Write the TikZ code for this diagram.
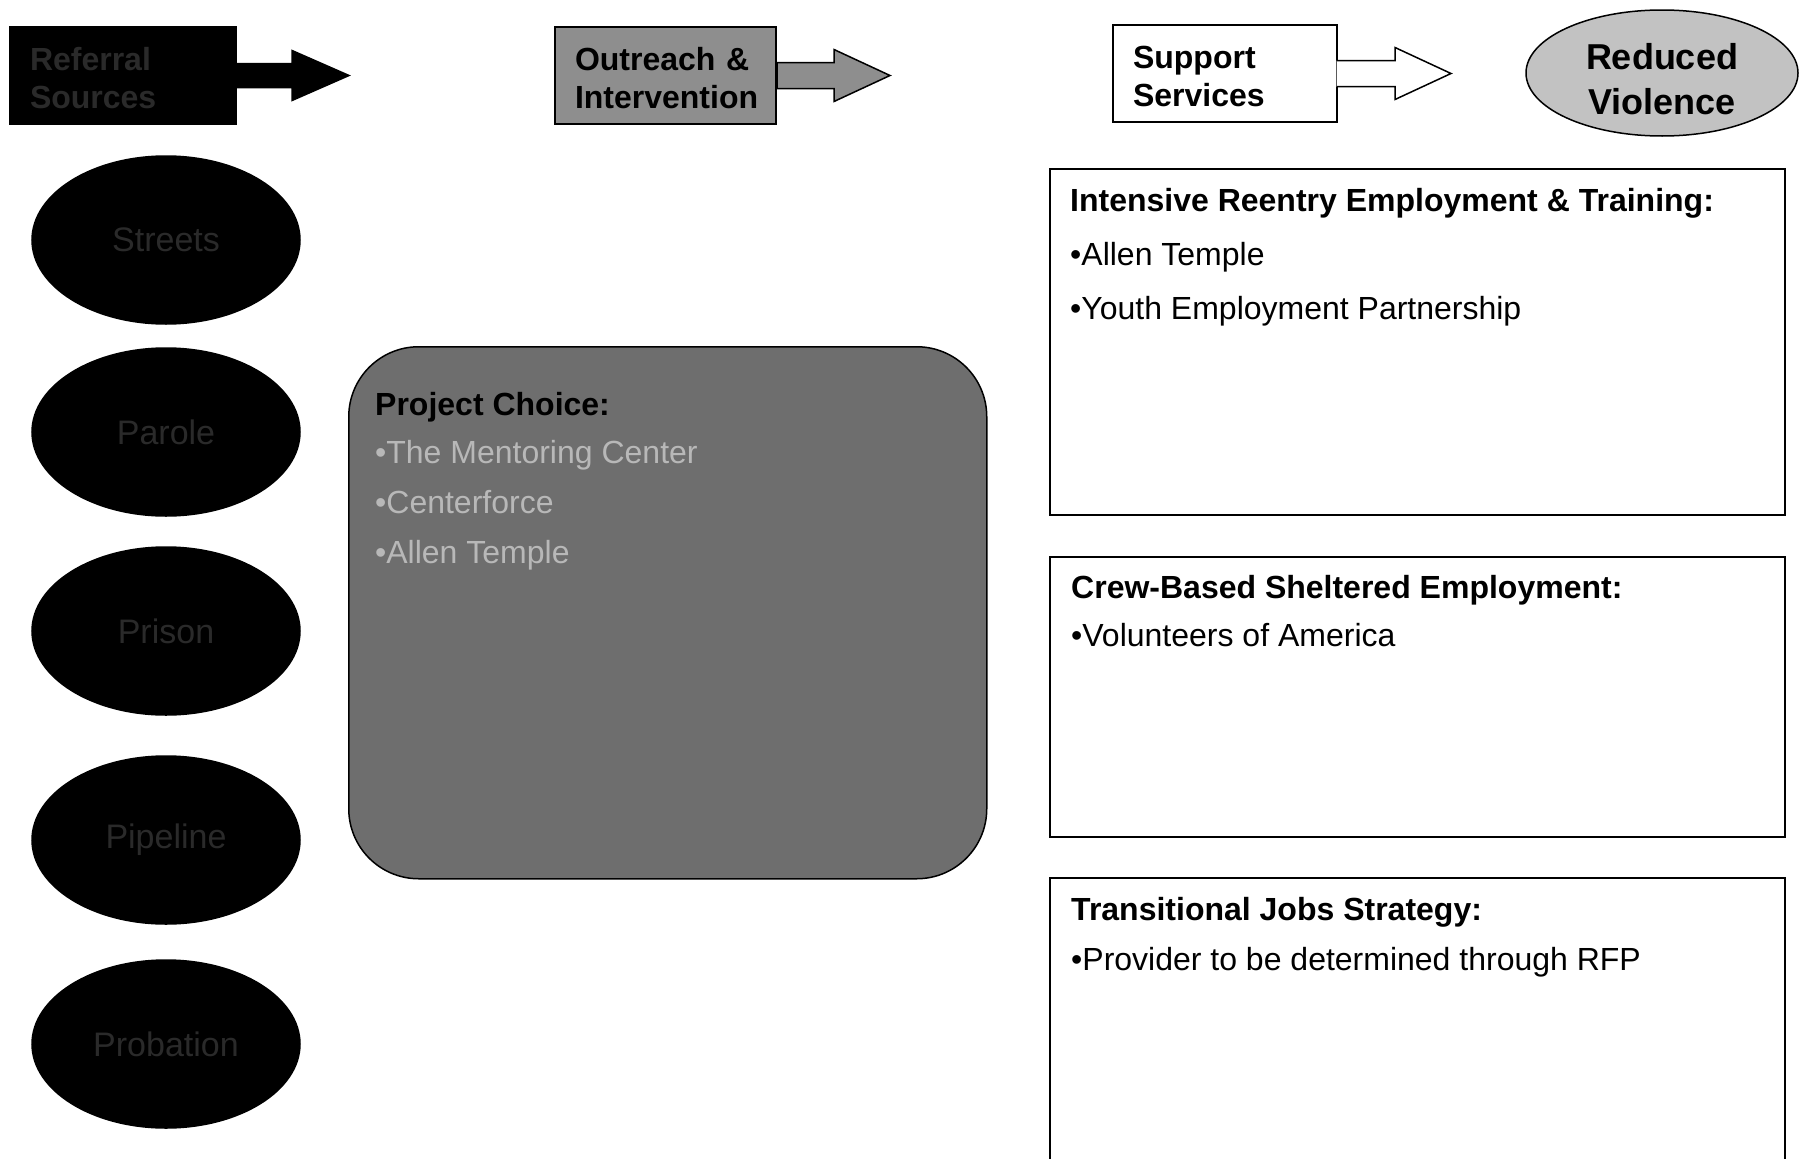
\documentclass[tikz,border=0pt]{standalone}
\usepackage{fontspec}
\setmainfont{Liberation Sans}
\usetikzlibrary{shapes.geometric,calc}
\definecolor{pcgray}{HTML}{6E6E6E}
\definecolor{outgray}{HTML}{8E8E8E}
\definecolor{rvgray}{HTML}{C2C2C2}
\definecolor{dimtext}{HTML}{2A2A2A}
\definecolor{pctextc}{HTML}{B8B8B8}
\tikzset{
  hdrbox/.style={rectangle, anchor=north west, inner xsep=20pt, inner ysep=0pt,
    minimum height=97pt, text width=186pt, align=left, line width=2pt, draw=black,
    font=\fontsize{32}{38}\selectfont\bfseries},
  srcell/.style={ellipse, minimum width=268pt, minimum height=168pt, fill=black,
    draw=black, line width=1.5pt, text=dimtext, font=\fontsize{34}{40}\selectfont},
  outbox/.style={rectangle, anchor=north west, draw=black, line width=2pt, fill=white,
    minimum width=735pt},
  hdtxt/.style={anchor=base west, inner sep=0pt, font=\fontsize{32}{38}\selectfont\bfseries},
  bltxt/.style={anchor=base west, inner sep=0pt, font=\fontsize{32}{38}\selectfont},
}
\newcommand{\hstrut}{\rule{0pt}{29pt}}
\begin{document}
\begin{tikzpicture}[x=1pt,y=-1pt]
\useasboundingbox (0,0) rectangle (1800,1159);
\clip (0,0) rectangle (1800,1159);

% header boxes
\node (ref) [hdrbox, fill=black, text=dimtext] at (9,26) {\hstrut Referral\\Sources};
\node (out) [hdrbox, fill=outgray, text=black, text width=181pt] at (554,26) {\hstrut Outreach \&\\Intervention};
\node (sup) [hdrbox, fill=white, text=black, text width=184pt] at (1112,24) {\hstrut Support\\Services};
\node (rv) [ellipse, minimum width=272pt, minimum height=126pt, fill=rvgray, draw=black,
  line width=1.5pt, inner sep=0pt] at (1662,73) {};
\node (rvt) [align=center, inner sep=0pt, font=\fontsize{36}{45}\selectfont\bfseries]
  at ($(rv.center)+(0,6)$) {Reduced\\Violence};

% block arrows
\coordinate (refE) at (ref.east);
\filldraw[fill=black, draw=black, line width=1.5pt]
  ($(refE)+(0,-12)$) -- ++(55,0) -- ++(0,-13) -- ($(refE)+(112,0)$)
  -- ($(refE)+(55,25)$) -- ++(0,-13) -- ($(refE)+(0,12)$);
\coordinate (outE) at (out.east);
\filldraw[fill=outgray, draw=black, line width=1.5pt]
  ($(outE)+(-1,-13)$) -- ($(outE)+(57,-13)$) -- ++(0,-13) -- ($(outE)+(113,0)$)
  -- ($(outE)+(57,26)$) -- ++(0,-13) -- ($(outE)+(-1,13)$);
\draw[black, line width=2pt] ($(outE)+(0,-13)$) -- ($(outE)+(0,13)$);
\coordinate (supE) at (sup.east);
\fill[white] ($(supE)+(-1.5,-13)$) -- ($(supE)+(57,-13)$) -- ++(0,-13) -- ($(supE)+(113,0)$)
  -- ($(supE)+(57,26)$) -- ++(0,-13) -- ($(supE)+(-1.5,13)$) -- cycle;
\draw[black, line width=1.5pt] ($(supE)+(-1,-13)$) -- ($(supE)+(57,-13)$) -- ++(0,-13)
  -- ($(supE)+(113,0)$) -- ($(supE)+(57,26)$) -- ++(0,-13) -- ($(supE)+(-1,13)$);

% referral source ellipses
\node (s1) [srcell] at (166,240) {Streets};
\node (s2) [srcell] at (166,432) {Parole};
\node (s3) [srcell] at (166,631) {Prison};
\node (s4) [srcell] at (166,840) {Pipeline};
\node (s5) [srcell] at (166,1044) {Probation};

% Project Choice
\node (pc) [rectangle, rounded corners=70pt, anchor=north west, minimum width=638pt,
  minimum height=532pt, fill=pcgray, draw=black, line width=1.5pt] at (348,346) {};
\node (pc0) [hdtxt, text=black] at (375,415) {Project Choice:};
\node (pc1) [bltxt, text=pctextc] at (375,463) {•The Mentoring Center};
\node (pc2) [bltxt, text=pctextc] at (375,513) {•Centerforce};
\node (pc3) [bltxt, text=pctextc] at (375,563) {•Allen Temple};

% support service boxes
\node (b1) [outbox, minimum height=346pt] at (1049,168) {};
\node (b1t) [hdtxt] at (1070,211) {Intensive Reentry Employment \& Training:};
\node (b1a) [bltxt] at (1070,265) {•Allen Temple};
\node (b1b) [bltxt] at (1070,319) {•Youth Employment Partnership};

\node (b2) [outbox, minimum height=280pt] at (1049,556) {};
\node (b2t) [hdtxt] at (1071,598) {Crew-Based Sheltered Employment:};
\node (b2a) [bltxt] at (1071,646) {•Volunteers of America};

\node (b3) [outbox, minimum height=320pt] at (1049,877) {};
\node (b3t) [hdtxt] at (1071,920) {Transitional Jobs Strategy:};
\node (b3a) [bltxt] at (1071,970) {•Provider to be determined through RFP};
\end{tikzpicture}
\end{document}
